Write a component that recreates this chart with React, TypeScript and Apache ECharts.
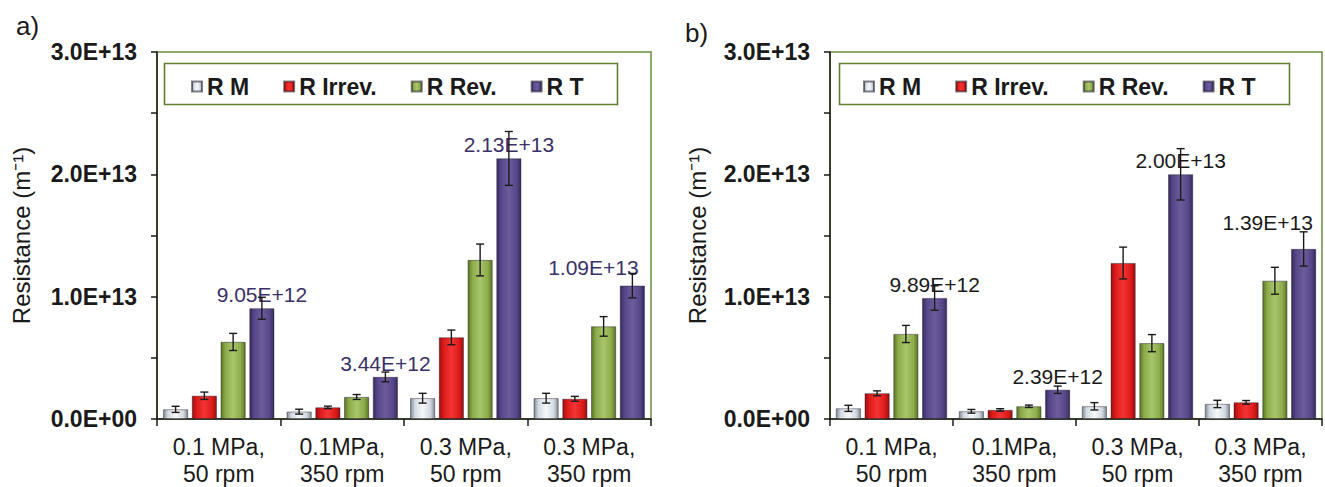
import React, { useEffect, useRef } from "react";
import * as echarts from "echarts";

const categories = ["0.1 MPa,\n50 rpm", "0.1MPa,\n350 rpm", "0.3 MPa,\n50 rpm", "0.3 MPa,\n350 rpm"];
const seriesNames = ["R M", "R Irrev.", "R Rev.", "R T"];
const yTickLabels = ["0.0E+00", "1.0E+13", "2.0E+13", "3.0E+13"];

// Panel a)
const aRM = [0.79e12, 0.6e12, 1.7e12, 1.7e12];
const aRMErr = [0.25e12, 0.2e12, 0.4e12, 0.4e12];
const aIrr = [1.9e12, 0.95e12, 6.67e12, 1.65e12];
const aIrrErr = [0.3e12, 0.1e12, 0.6e12, 0.2e12];
const aRev = [6.3e12, 1.8e12, 13.0e12, 7.57e12];
const aRevErr = [0.7e12, 0.2e12, 1.3e12, 0.8e12];
const aRT = [9.05e12, 3.44e12, 21.3e12, 10.9e12];
const aRTErr = [0.9e12, 0.4e12, 2.2e12, 1.0e12];

// Panel b)
const bRM = [0.87e12, 0.63e12, 1.04e12, 1.23e12];
const bRMErr = [0.25e12, 0.15e12, 0.3e12, 0.3e12];
const bIrr = [2.1e12, 0.74e12, 12.75e12, 1.36e12];
const bIrrErr = [0.2e12, 0.1e12, 1.3e12, 0.15e12];
const bRev = [6.95e12, 1.04e12, 6.2e12, 11.3e12];
const bRevErr = [0.7e12, 0.1e12, 0.7e12, 1.1e12];
const bRT = [9.89e12, 2.39e12, 20.0e12, 13.9e12];
const bRTErr = [1.0e12, 0.3e12, 2.1e12, 1.4e12];

// label nudges (px) for the R T value labels, per panel and category
const labelOffsets = [
  [[0, 0], [0, 0], [0, 0], [-39, -5]],
  [[0, 0], [0, 0], [0, 0], [-36, -13]],
];

const FONT = "'Liberation Sans', Arial, sans-serif";
const BAR_W = 25;
const BAR_GAP = 3.75;

function grad(edge: string, mid: string, center: string) {
  return new echarts.graphic.LinearGradient(0, 0, 1, 0, [
    { offset: 0, color: edge },
    { offset: 0.18, color: mid },
    { offset: 0.5, color: center },
    { offset: 0.82, color: mid },
    { offset: 1, color: edge },
  ]);
}

const colors = [
  grad("#7f8a98", "#d3d9e0", "#f6f8fa"),
  grad("#9c1010", "#dc1a1a", "#f43434"),
  grad("#5a7526", "#8cab4a", "#a9c66c"),
  grad("#372a5c", "#57478a", "#6c5c9c"),
];

function fmt(v: number) {
  return v.toExponential(2).replace("e+", "E+").replace("e-", "E-");
}

export default function App() {
  const ref = useRef<HTMLDivElement>(null);
  useEffect(() => {
    document.body.style.margin = "0";
    const chart = echarts.init(ref.current!, null, { renderer: "svg" });
    const panels = [
      { vals: [aRM, aIrr, aRev, aRT], errs: [aRMErr, aIrrErr, aRevErr, aRTErr], labelColor: "#3a3168" },
      { vals: [bRM, bIrr, bRev, bRT], errs: [bRMErr, bIrrErr, bRevErr, bRTErr], labelColor: "#1a1a1a" },
    ];
    const grids = [
      { left: 157, top: 52, width: 494, height: 367 },
      { left: 830, top: 52, width: 492, height: 367 },
    ];
    const nameGaps = [124, 121];
    const series: any[] = [];
    panels.forEach((p, pi) => {
      p.vals.forEach((vals, si) => {
        series.push({
          type: "bar",
          name: seriesNames[si],
          xAxisIndex: pi,
          yAxisIndex: pi,
          data:
            si === 3
              ? vals.map((v, ci) => ({ value: v, label: { offset: labelOffsets[pi][ci] } }))
              : vals,
          barWidth: BAR_W,
          barGap: (BAR_GAP / BAR_W) * 100 + "%",
          itemStyle: { color: colors[si], borderColor: "rgba(30,25,40,0.55)", borderWidth: 0.8 },
          label:
            si === 3
              ? {
                  show: true,
                  position: "top",
                  distance: 3,
                  formatter: (prm: any) => fmt(prm.value),
                  color: p.labelColor,
                  fontFamily: FONT,
                  fontSize: 21,
                }
              : { show: false },
          z: 2,
        });
      });
      const errData: any[] = [];
      p.vals.forEach((vals, si) => {
        vals.forEach((v, ci) => errData.push([ci, v, p.errs[si][ci], si]));
      });
      series.push({
        type: "custom",
        name: "err" + pi,
        xAxisIndex: pi,
        yAxisIndex: pi,
        data: errData,
        encode: { x: 0, y: 1 },
        z: 5,
        renderItem: (params: any, api: any) => {
          const ci = api.value(0);
          const v = api.value(1);
          const e = api.value(2);
          const si = api.value(3);
          const top = api.coord([ci, v + e]);
          const bot = api.coord([ci, v - e]);
          const x = top[0] + (si - 1.5) * (BAR_W + BAR_GAP);
          const cap = 4;
          const st = { stroke: "#1a1a1a", lineWidth: 1.4 };
          return {
            type: "group",
            children: [
              { type: "line", shape: { x1: x, y1: top[1], x2: x, y2: bot[1] }, style: st },
              { type: "line", shape: { x1: x - cap, y1: top[1], x2: x + cap, y2: top[1] }, style: st },
              { type: "line", shape: { x1: x - cap, y1: bot[1], x2: x + cap, y2: bot[1] }, style: st },
            ],
          };
        },
      });
    });

    const legendBase = {
      data: seriesNames,
      icon: "rect",
      itemWidth: 10,
      itemHeight: 10,
      itemGap: 34,
      textStyle: { fontFamily: FONT, fontSize: 23, fontWeight: "bold", color: "#1a1a1a" },
      selectedMode: false,
    };

    const option: any = {
      animation: false,
      backgroundColor: "#ffffff",
      grid: grids.map((g) => ({
        ...g,
        show: true,
        borderColor: "#6b8a3a",
        borderWidth: 1.5,
        backgroundColor: "transparent",
      })),
      legend: [
        { ...legendBase, left: 186, top: 70 },
        { ...legendBase, left: 858, top: 70 },
      ],
      xAxis: grids.map((_, i) => ({
        type: "category",
        gridIndex: i,
        data: categories,
        axisLine: { lineStyle: { color: "#1a1a1a", width: 1.5 } },
        axisTick: { show: true, length: 7, interval: 0, lineStyle: { color: "#1a1a1a", width: 1.5 } },
        axisLabel: {
          interval: 0,
          fontFamily: FONT,
          fontSize: 23,
          color: "#1a1a1a",
          lineHeight: 27,
          margin: 14,
        },
      })),
      yAxis: grids.map((_, i) => ({
        type: "value",
        gridIndex: i,
        min: 0,
        max: 3e13,
        interval: 5e12,
        name: "Resistance (m\u207B\u00B9)",
        nameLocation: "middle",
        nameGap: nameGaps[i],
        nameTextStyle: { fontFamily: FONT, fontSize: 24, color: "#1a1a1a" },
        axisLine: { show: true, lineStyle: { color: "#1a1a1a", width: 1.5 } },
        axisTick: { show: true, length: 6, lineStyle: { color: "#1a1a1a", width: 1.5 } },
        splitLine: { show: false },
        axisLabel: {
          fontFamily: FONT,
          fontSize: 23,
          fontWeight: "bold",
          color: "#1a1a1a",
          margin: 20,
          formatter: (v: number) => {
            const k = Math.round(v / 1e13);
            if (Math.abs(v - k * 1e13) > 1e6) return "";
            return yTickLabels[k] ?? "";
          },
        },
      })),
      graphic: [
        { type: "text", left: 16, top: 13, style: { text: "a)", fontFamily: FONT, fontSize: 26, fill: "#1a1a1a" } },
        { type: "text", left: 685, top: 20, style: { text: "b)", fontFamily: FONT, fontSize: 26, fill: "#1a1a1a" } },
        {
          type: "rect",
          left: 162,
          top: 61,
          shape: { width: 453, height: 41 },
          style: { fill: "none", stroke: "#5e7f2e", lineWidth: 1.6 },
          silent: true,
        },
        {
          type: "rect",
          left: 837,
          top: 61,
          shape: { width: 450, height: 41 },
          style: { fill: "none", stroke: "#5e7f2e", lineWidth: 1.6 },
          silent: true,
        },
      ],
      series,
    };
    chart.setOption(option);
    return () => chart.dispose();
  }, []);
  return <div ref={ref} style={{ width: 1325, height: 487 }} />;
}
